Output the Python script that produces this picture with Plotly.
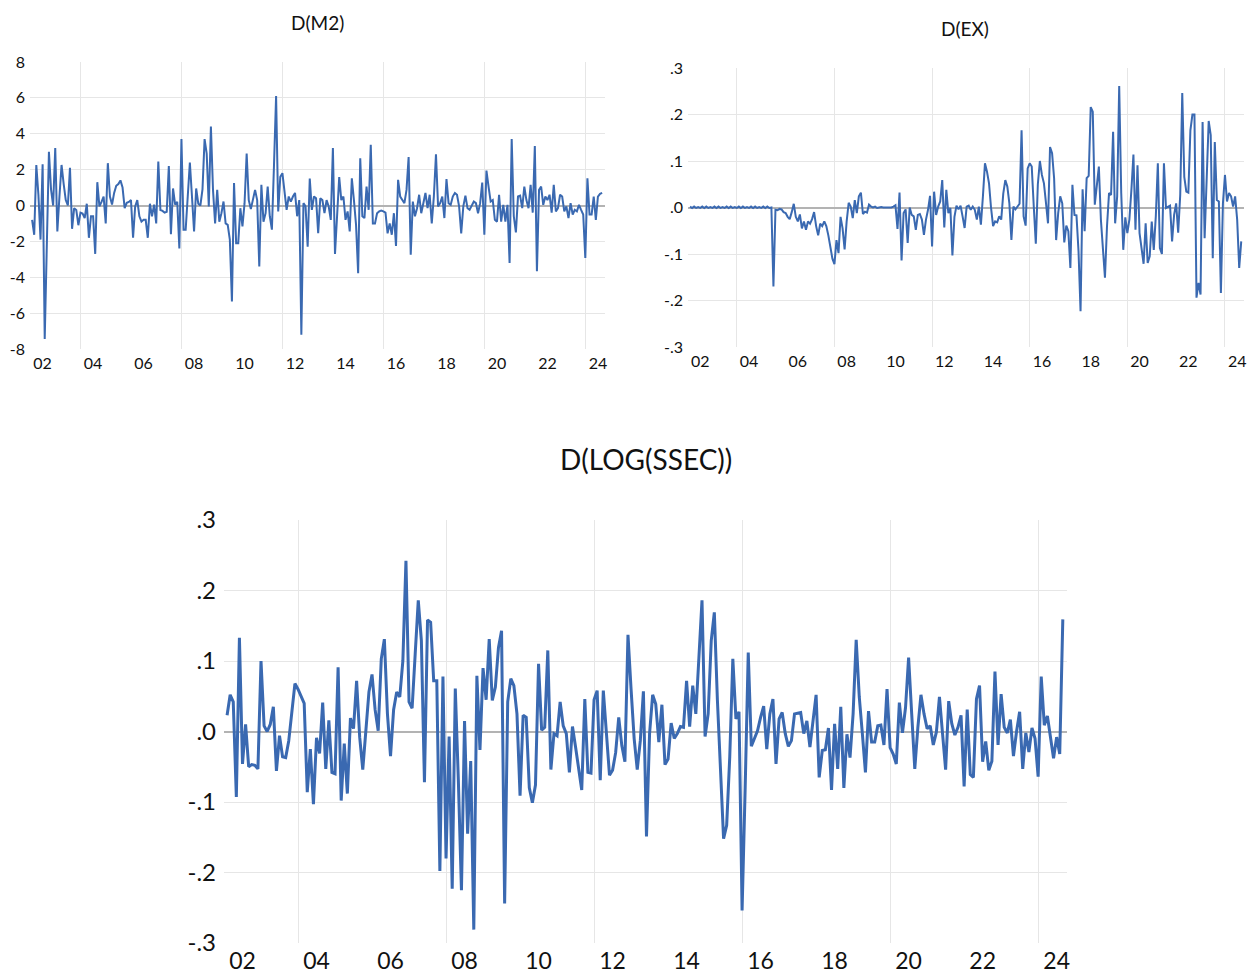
import pandas as pd
import plotly.graph_objects as go

# ---------------- data (monthly, 2002M02 .. 2024M09) ----------------
start_month = "2002-02-01"
n_obs = 272

m2_values = [
    -0.8, -1.63, 2.26, 0.6, -1.9, 2.3, -7.44, -2.8, 3.0, 0.9,
    0.0, 3.2, -1.45, 0.5, 2.26, 1.2, 0.3, 0.0, 2.1, -1.3,
    -0.15, -0.25, -1.1, -0.4, -0.45, -0.7, 0.1, -1.8, -0.6, -0.6,
    -2.7, 1.3, -0.05, 0.2, 0.5, -1.0, 2.36, 0.5, 0.05, 0.7,
    1.1, 1.2, 1.4, 1.0, -0.15, 0.15, 0.2, 0.3, -1.8, -0.05,
    0.3, -0.6, -0.9, -0.8, -0.8, -1.8, 0.1, -0.6, 0.05, -1.0,
    2.45, -0.25, -0.3, -0.4, -0.35, 2.2, -1.6, 0.95, 0.05, 0.2,
    -2.4, 3.7, -1.35, -1.35, 0.3, 2.4, 0.5, -1.45, 0.95, 0.1,
    0.0, 0.9, 3.7, 2.9,
    -0.05, 4.4, 0.87, -1.0, 0.87, -0.9, -0.43, 0.22, -1.0, -1.08,
    -1.9, -5.35, 1.25, -2.1, -2.1, -0.15, -1.17, 0.13, 2.9, 0.3,
    -0.2, 0.4, 0.87, 0.3, -3.4, 1.15, -0.9, -0.43, 1.05, -0.6,
    -1.35, 2.26, 6.1, -0.33, 1.6, 1.8, 0.87, -0.24, 0.5, 0.22,
    0.5, 0.7, -0.6, 0.3, -7.2, 0.13, -0.05, -2.3, 1.5, -0.24,
    0.5, 0.4, -1.55, 0.4, 0.3, -0.43, 0.3, -0.05, -0.8, 3.2,
    -2.7, -0.43, 1.58, 0.3, 0.5, -0.8, -0.33, -1.45, 1.52, 0.3,
    -1.08, -3.77, 2.63, -0.6, -0.7, 1.05, -0.24, 3.38, -1.0, -1.0,
    -0.43, -0.33, -0.28, -0.33, -0.4, -1.55, -1.0, -1.63, -0.43, -2.25,
    1.43, 0.5, 0.3, 0.13, 0.87, 2.7,
    -2.75, 0.22, -0.6, -0.15, 0.6, -0.43, 0.13, 0.7, -0.15, 0.6,
    -1.0, 0.5, 2.86, -0.05, 0.13, 0.5, -0.7, 1.47, 0.13, 0.04,
    0.5, 0.7, 0.6, -0.05, -1.55, -0.05, 0.55, -0.15, -0.24, 0.04,
    0.22, 0.13, -0.43, 0.13, 1.28, -1.63, 1.95, 1.05, 0.22, 0.3,
    -0.8, -0.9, 0.6, -0.9, 0.04, -0.9, 0.04, -3.2, 3.7, -0.6,
    -1.5, 0.5, 0.55, -0.15, 1.05, 0.3, -0.15, 1.15, -0.4, 3.32,
    -3.67, 0.87, 1.05, 0.04, 0.5, 0.3, 0.6, -0.4, 1.15, -0.33,
    -0.15, 0.6, 0.5, -0.33, -0.05, -0.7, 0.13, -0.5, -0.24, -0.33,
    0.04, -0.24, -0.5, -2.93, 1.52, -0.5, -0.5, 0.5, -0.8, 0.5,
    0.65, 0.7,
]

ex_values = [
    0.002, -0.001, 0.002, -0.001, 0.001, -0.001, 0.002, -0.001, 0.002, -0.001,
    0.001, -0.001, 0.002, -0.001, 0.002, -0.001, 0.001, -0.001, 0.002, -0.001,
    0.002, -0.001, 0.001, -0.001, 0.002, -0.001, 0.002, -0.001, 0.001, -0.001,
    0.002, -0.001, 0.002, -0.001, 0.001, -0.001, 0.002, -0.001, 0.002, -0.001,
    0.0,
    -0.17, -0.005, -0.006, -0.003, -0.004, -0.01, -0.012, -0.02, -0.025, -0.01,
    0.008, -0.02, -0.03, -0.015, -0.045, -0.03, -0.048, -0.03, -0.035, -0.025,
    -0.01, -0.04, -0.06, -0.035, -0.04, -0.03, -0.04, -0.06, -0.085, -0.11,
    -0.122, -0.07, -0.098, -0.02, -0.045, -0.09, -0.03, 0.01,
    0.002, -0.023, 0.016, -0.012, 0.024, 0.032, -0.014, -0.009, -0.011, 0.006,
    0.002, 0.0, 0.002, -0.001, 0.0, 0.001, 0.0, 0.0, 0.001, 0.0, 0.0, 0.002, 0.005,
    -0.046, 0.032, -0.114, -0.012, -0.004, -0.076, 0.0, -0.016, -0.019, -0.048,
    -0.016, -0.014, -0.026, -0.059, -0.026, -0.005, 0.025, -0.084, 0.034, -0.016,
    0.002, 0.013, 0.059, -0.043, 0.038, -0.012, -0.001, -0.103, -0.02, 0.004,
    -0.004, 0.004, -0.019, -0.044, 0.002, 0.004, -0.005, 0.002, -0.005, -0.026,
    0.002, -0.037, 0.024, 0.095, 0.077, 0.052, -0.001, -0.04, -0.03, -0.032,
    -0.019, -0.026, 0.03, 0.059, 0.045, 0.009, -0.07, 0.002, -0.004, 0.002,
    0.008, 0.166, -0.019, -0.039, 0.084, 0.095, 0.088, 0.002, -0.078, 0.05,
    0.1, 0.07, 0.052, 0.01, -0.034, 0.13,
    0.117, 0.063, -0.07, -0.012, 0.024, 0.009, -0.075, -0.039, -0.051, -0.13,
    0.049, -0.016, -0.017, -0.094, -0.223, 0.039, -0.051, 0.063, 0.068, 0.216,
    0.206, 0.006, 0.052, 0.088, -0.026, -0.084, -0.151, -0.041, 0.031, 0.027,
    0.163, -0.034, 0.024, 0.261, 0.031, -0.091, -0.021, -0.055, -0.026, 0.038,
    0.114, -0.048, 0.091, -0.055, -0.091, -0.121, -0.034, -0.119, -0.105, -0.03,
    -0.091, -0.019, 0.095, -0.087, -0.1, 0.095, -0.001, 0.002, 0.004, -0.073,
    -0.016, 0.009, -0.054, 0.027, 0.246, 0.066, 0.034, 0.032, 0.166, 0.2,
    0.2, -0.194, -0.162, -0.187, 0.184, -0.066, 0.045, 0.186, 0.156, -0.109,
    0.141, 0.016, 0.013, -0.184, 0.009, 0.07, 0.013, 0.031, 0.024, 0.002,
    0.024, -0.026, -0.13, -0.073,
]

ssec_values = [
    0.023, 0.052, 0.042, -0.093, 0.133, -0.046, 0.01, -0.05, -0.047, -0.048,
    -0.053, 0.1, 0.008, 0.0, 0.01, 0.035, -0.056, -0.006, -0.036, -0.037,
    -0.013, 0.033, 0.068, 0.06, 0.05, 0.04, -0.086, -0.025, -0.103, -0.009,
    -0.031, 0.041, -0.053, 0.016, -0.058, -0.06, 0.091, -0.098, -0.017, -0.088,
    0.019, 0.004, 0.072, -0.008, -0.054, 0.001, 0.056, 0.081, 0.031, 0.001,
    0.103, 0.131, 0.025, -0.035, 0.031, 0.056,
    0.049, 0.100, 0.242, 0.042, 0.033, 0.11, 0.186, 0.129, -0.072, 0.158,
    0.155, 0.072, 0.072, -0.198, 0.078, -0.18, -0.007, -0.223, 0.061, -0.07,
    -0.225, 0.015, -0.145, -0.042, -0.281, 0.079, -0.026, 0.09, 0.045, 0.131,
    0.044, 0.063, 0.119, 0.143, -0.244, 0.042, 0.075, 0.065, 0.025, -0.091,
    0.023, 0.02, -0.08, -0.101, -0.076, 0.096, 0.002, 0.006, 0.115, -0.054,
    -0.003, -0.006, 0.042, 0.008, -0.003, -0.058, 0.007, -0.022, -0.05, -0.083,
    0.046, -0.058, -0.059, 0.045, 0.058, -0.069, 0.058, -0.003,
    -0.062, -0.055, -0.03, 0.02, -0.02, -0.043, 0.137, 0.06, -0.01, -0.054,
    -0.013, 0.057, -0.149, -0.003, 0.052, 0.039, -0.015, 0.038, -0.047, -0.039,
    0.012, -0.01, -0.003, 0.007, 0.006, 0.072, 0.007, 0.065, 0.025, 0.105,
    0.186, -0.007, 0.025, 0.129, 0.169, 0.044, -0.05, -0.152, -0.133, -0.036,
    0.103, 0.018, 0.028, -0.254, -0.08, 0.112, -0.021, -0.01, 0.001, 0.02,
    0.036, -0.025, 0.025, 0.046, -0.046, 0.018, 0.027, -0.003, -0.021, -0.013,
    0.025, 0.026, 0.027, -0.003, 0.015, -0.022, 0.012, 0.052,
    -0.065, -0.027, -0.026, 0.005, -0.083, 0.011, -0.053, 0.035, -0.08, -0.004,
    -0.037, 0.025, 0.13, 0.049, -0.003, -0.058, 0.029, -0.015, -0.015, 0.008,
    0.009, -0.019, 0.06, -0.023, -0.032, -0.046, 0.041, -0.002, 0.034, 0.105,
    0.025, -0.053, 0.006, 0.052, 0.025, 0.004, 0.008, -0.019, -0.001, 0.049,
    -0.003, -0.054, 0.043, 0.011, -0.005, 0.006, 0.023, -0.078, 0.031, -0.061,
    -0.065, 0.046, 0.065, -0.043, -0.014, -0.055, -0.042, 0.085, -0.019, 0.053,
    0.006, -0.002, 0.017, -0.035, 0.0, 0.028, -0.053, -0.002, -0.029, 0.005,
    -0.01, -0.064, 0.078, 0.009, 0.022, -0.006, -0.038, -0.008, -0.032, 0.159,
]

x_tick_years = [2002, 2004, 2006, 2008, 2010, 2012, 2014, 2016, 2018, 2020, 2022, 2024]
x_tick_labels = ["02", "04", "06", "08", "10", "12", "14", "16", "18", "20", "22", "24"]
x_grid_years = [2004, 2008, 2012, 2016, 2020, 2024]

m2_ticks = [-8, -6, -4, -2, 0, 2, 4, 6, 8]
m2_tick_labels = ["-8", "-6", "-4", "-2", "0", "2", "4", "6", "8"]
frac_ticks = [-0.3, -0.2, -0.1, 0.0, 0.1, 0.2, 0.3]
frac_tick_labels = ["-.3", "-.2", "-.1", ".0", ".1", ".2", ".3"]

titles = ["D(M2)", "D(EX)", "D(LOG(SSEC))"]

# ---------------- figure ----------------
W, H = 1251, 976
BLUE = "#3A69B1"
GRID = "#e6e6e6"
ZERO = "#b3b3b3"
FONT = "Lato"

dates = pd.date_range(start_month, periods=n_obs, freq="MS")
t = (dates.year + (dates.month - 1) / 12.0).tolist()
x_tick_pos = [y + 0.5 for y in x_tick_years]

fig = go.Figure()
fig.add_trace(go.Scatter(x=t, y=m2_values, mode="lines", line=dict(color=BLUE, width=2),
                         xaxis="x", yaxis="y", showlegend=False))
fig.add_trace(go.Scatter(x=t, y=ex_values, mode="lines", line=dict(color=BLUE, width=2),
                         xaxis="x2", yaxis="y2", showlegend=False))
fig.add_trace(go.Scatter(x=t, y=ssec_values, mode="lines", line=dict(color=BLUE, width=3),
                         xaxis="x3", yaxis="y3", showlegend=False))


def x_dom(left, right):
    return [left / W, right / W]


def y_dom(top, bottom):
    return [1 - bottom / H, 1 - top / H]


def xaxis(dom, anchor, size, standoff):
    return dict(domain=dom, anchor=anchor, range=[2002.0, 2024.78],
                tickmode="array", tickvals=x_tick_pos, ticktext=x_tick_labels,
                showgrid=False, zeroline=False, showline=False, ticks="",
                ticklabelstandoff=standoff,
                tickfont=dict(family=FONT, size=size, color="#111"),
                minor=dict(tickmode="array", tickvals=x_grid_years, showgrid=True,
                           gridcolor=GRID, gridwidth=1, ticks=""))


def yaxis(dom, anchor, rng, vals, text, size, standoff):
    return dict(domain=dom, anchor=anchor, range=rng, tickmode="array",
                tickvals=vals, ticktext=text, showgrid=True, gridcolor=GRID, gridwidth=1,
                zeroline=True, zerolinecolor=ZERO, zerolinewidth=1.5, showline=False,
                ticks="", ticklabelstandoff=standoff,
                tickfont=dict(family=FONT, size=size, color="#111"))


def title_ann(text, cx, cy, size):
    return dict(text=text, x=cx / W, y=1 - cy / H, xref="paper", yref="paper",
                xanchor="center", yanchor="middle", showarrow=False,
                font=dict(family=FONT, size=size, color="#111"))


fig.update_layout(
    width=W, height=H, margin=dict(l=0, r=0, t=0, b=0, autoexpand=False),
    paper_bgcolor="white", plot_bgcolor="white", showlegend=False,
    xaxis=xaxis(x_dom(30, 605), "y", 16, 3),
    yaxis=yaxis(y_dom(62, 349), "x", [-8, 8], m2_ticks, m2_tick_labels, 16, 4),
    xaxis2=xaxis(x_dom(688, 1244), "y2", 16, 3),
    yaxis2=yaxis(y_dom(68, 347), "x2", [-0.3, 0.3], frac_ticks, frac_tick_labels, 16, 4),
    xaxis3=xaxis(x_dom(224, 1067), "y3", 23, 2),
    yaxis3=yaxis(y_dom(520, 943), "x3", [-0.3, 0.3], frac_ticks, frac_tick_labels, 24, 7),
    annotations=[
        title_ann(titles[0], 318, 22, 19),
        title_ann(titles[1], 965, 29, 19),
        title_ann(titles[2], 646, 459, 28),
    ],
)

fig.write_html(
    "out.html",
    config={"displayModeBar": False},
    post_script="document.body.style.margin='0px'; document.body.style.overflow='hidden';",
)
